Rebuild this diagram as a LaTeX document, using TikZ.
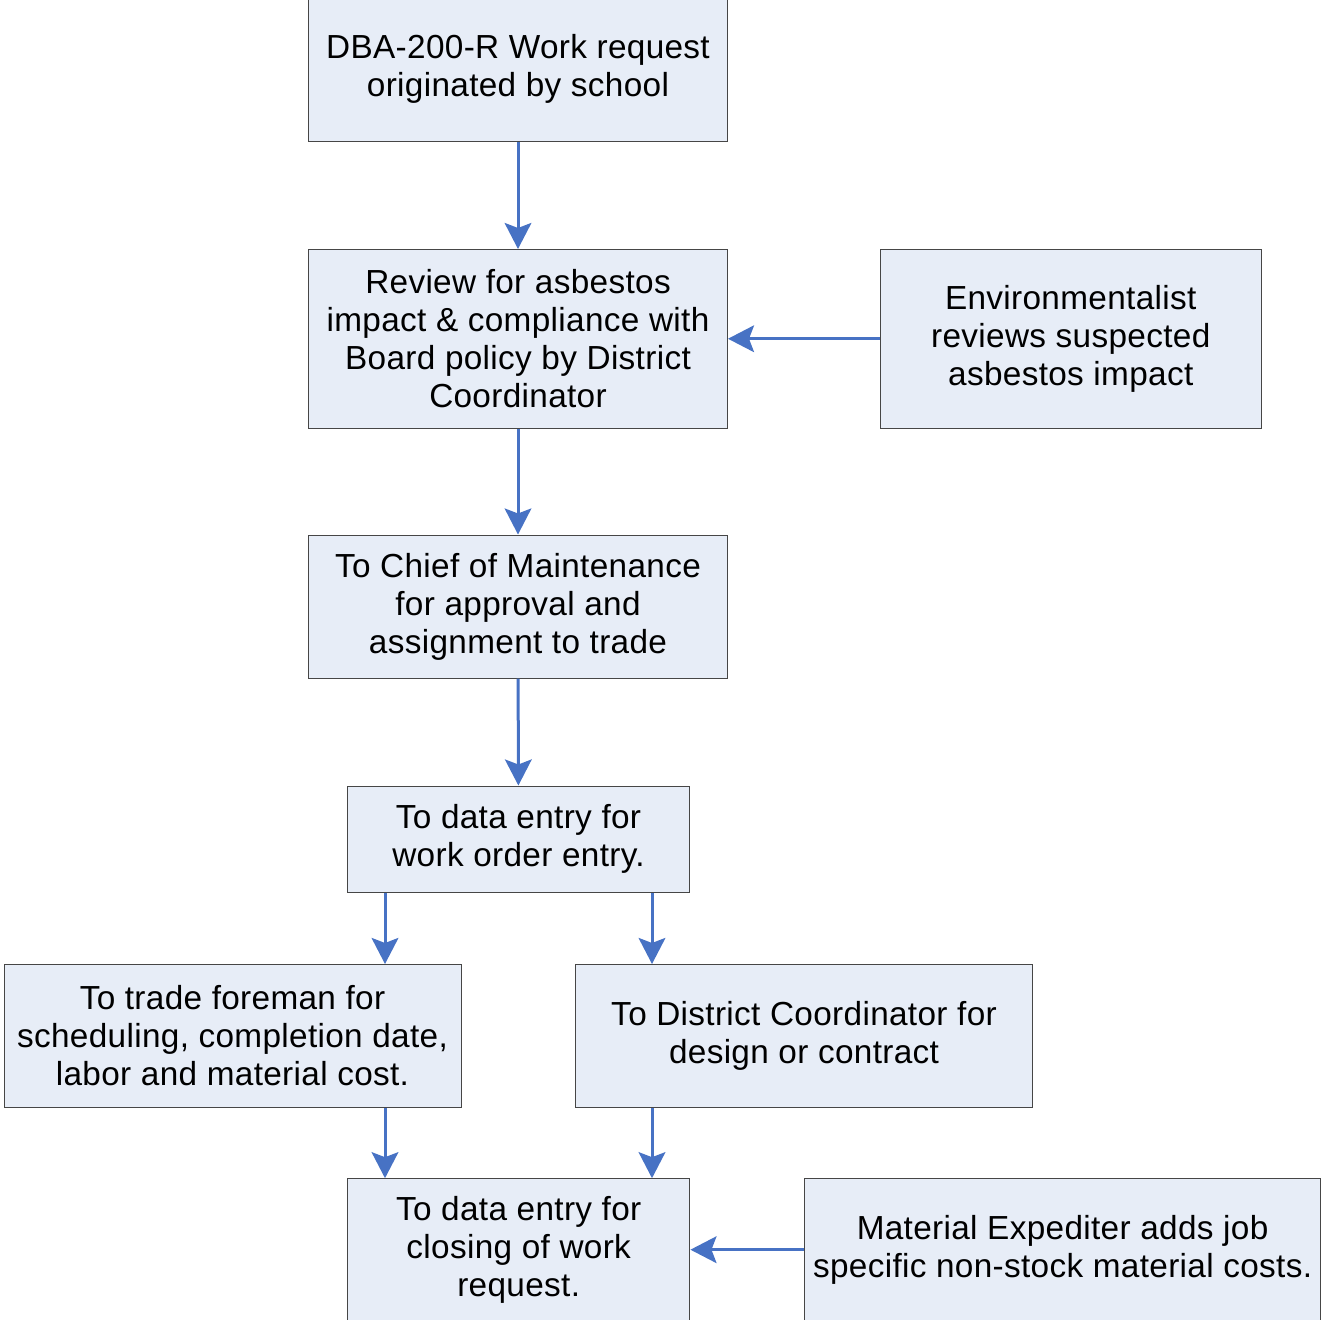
\documentclass[tikz,border=0pt]{standalone}
\usepackage{fontspec}
\setmainfont{Liberation Sans}[LetterSpace=1.0]
\usepackage{xcolor}
\usetikzlibrary{arrows.meta,calc}
\definecolor{boxgrey}{RGB}{70,70,70}
\definecolor{boxfill}{RGB}{231,237,247}
\definecolor{flowblue}{RGB}{71,114,196}
\newlength\pxu
\setlength\pxu{0.75pt}
\tikzset{
  wbox/.style={draw=boxgrey,line width=1\pxu,fill=boxfill,align=center,
    inner sep=0pt,font=\fontsize{25pt}{28.5pt}\selectfont},
  flow/.style={-{Stealth[length=19.5pt,width=20pt,inset=3.75pt]},
    line width=2.25pt,draw=flowblue}
}

\begin{document}
\begin{tikzpicture}[x=1\pxu,y=-1\pxu]
  \useasboundingbox (0,0) rectangle (1322,1320);
  \clip (0,0) rectangle (1322,1320);
  \node[wbox,minimum width=419\pxu,minimum height=144.5\pxu] (request) at (518,69.25)
    {DBA-200-R Work request\\originated by school};
  \node[wbox,minimum width=419\pxu,minimum height=178.5\pxu] (review) at (518,338.75)
    {Review for asbestos\\impact \& compliance with\\Board policy by District\\Coordinator};
  \node[wbox,minimum width=380.5\pxu,minimum height=178.5\pxu] (enviro) at (1070.75,338.75)
    {Environmentalist\\reviews suspected\\asbestos impact};
  \node[wbox,minimum width=419\pxu,minimum height=143\pxu] (chief) at (518,606.5)
    {To Chief of Maintenance\\for approval and\\assignment to trade};
  \node[wbox,minimum width=342\pxu,minimum height=106\pxu] (entry) at (518.5,839)
    {To data entry for\\work order entry.};
  \node[wbox,minimum width=457\pxu,minimum height=142.5\pxu] (foreman) at (232.5,1035.75)
    {To trade foreman for\\scheduling, completion date,\\labor and material cost.};
  \node[wbox,minimum width=456.3\pxu,minimum height=142.5\pxu] (district) at (804,1035.75)
    {To District Coordinator for\\design or contract};
  \node[wbox,minimum width=342.5\pxu,minimum height=142\pxu] (closing) at (518.7,1249.7)
    {To data entry for\\closing of work\\request.};
  \node[wbox,minimum width=516\pxu,minimum height=142\pxu] (expediter) at (1062.6,1249.7)
    {Material Expediter adds job\\specific non-stock material costs.};

  \draw[flow] (request) -- (review);
  \draw[flow] (enviro) -- (review);
  \draw[flow] (review) -- (chief);
  \draw[flow] (chief) -- (entry);
  \draw[flow] ([xshift=-133.5\pxu]entry.south) -- ([xshift=-133.5\pxu]entry.south |- foreman.north);
  \draw[flow] ([xshift=133.5\pxu]entry.south) -- ([xshift=133.5\pxu]entry.south |- district.north);
  \draw[flow] ([xshift=152.5\pxu]foreman.south) -- ([xshift=152.5\pxu]foreman.south |- closing.north);
  \draw[flow] ([xshift=-152\pxu]district.south) -- ([xshift=-152\pxu]district.south |- closing.north);
  \draw[flow] (expediter) -- (closing);
\end{tikzpicture}
\end{document}
